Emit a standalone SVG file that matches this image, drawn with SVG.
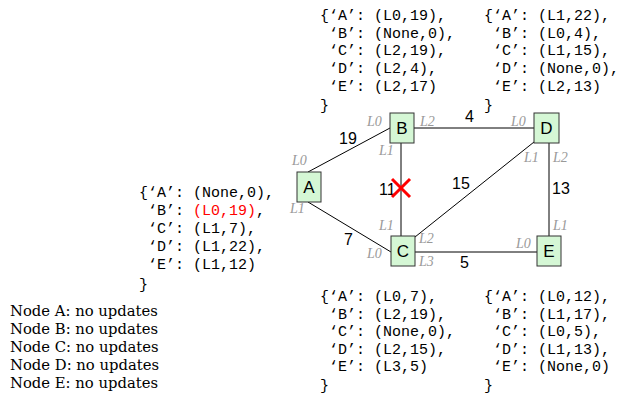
<svg xmlns="http://www.w3.org/2000/svg" width="623" height="397" viewBox="0 0 623 397">
<style>
.code{font-family:"Liberation Mono","Courier New",monospace;font-size:15px;fill:#000}
.red{fill:#ff0000}
.node rect{fill:#d5f7d5;stroke:#333;stroke-width:1}
.node text{font-family:"Liberation Sans",Arial,sans-serif;font-size:17px;text-anchor:middle;fill:#000}
.w{font-family:"Liberation Sans",Arial,sans-serif;font-size:16px;fill:#000}
.port{font-family:"Liberation Serif","Times New Roman",serif;font-style:italic;font-size:14px;fill:#999}
.edges line{stroke:#000;stroke-width:1}
.upd{font-family:"DejaVu Serif",serif;font-size:14.8px;fill:#000}
</style>
<rect width="623" height="397" fill="#fff"/>
<g id="connectors" class="edges">
<line x1="308" y1="172" x2="390" y2="128"/>
<line x1="308" y1="202" x2="391" y2="252"/>
<line x1="401" y1="142" x2="401" y2="236"/>
<line x1="414" y1="128" x2="534" y2="128"/>
<line x1="415" y1="237" x2="534" y2="142"/>
<line x1="549" y1="142" x2="549" y2="236"/>
<line x1="415" y1="252" x2="537" y2="252"/>
</g>
<g id="weights">
<text class="w" x="339" y="144">19</text>
<text class="w" x="465" y="122">4</text>
<text class="w" x="379" y="195">11</text>
<text class="w" x="452" y="189">15</text>
<text class="w" x="552" y="194">13</text>
<text class="w" x="344" y="245">7</text>
<text class="w" x="460" y="268">5</text>
</g>
<g id="cross" stroke="#ff0000" stroke-width="3">
<line x1="392" y1="179" x2="410" y2="197"/>
<line x1="410" y1="179" x2="392" y2="197"/>
</g>
<g id="node-A" class="node"><rect x="297" y="172" width="24" height="30"/><text x="309" y="193">A</text></g>
<g id="node-B" class="node"><rect x="390" y="113" width="24" height="30"/><text x="402" y="134">B</text></g>
<g id="node-C" class="node"><rect x="391" y="236" width="24" height="30"/><text x="403" y="257">C</text></g>
<g id="node-D" class="node"><rect x="534" y="113" width="25" height="30"/><text x="546.5" y="134">D</text></g>
<g id="node-E" class="node"><rect x="537" y="236" width="24" height="30"/><text x="549" y="257">E</text></g>
<g id="ports">
<text class="port" x="292" y="165">L0</text>
<text class="port" x="290" y="213">L1</text>
<text class="port" x="367" y="126">L0</text>
<text class="port" x="420" y="126">L2</text>
<text class="port" x="379" y="155">L1</text>
<text class="port" x="511" y="126">L0</text>
<text class="port" x="524" y="162">L1</text>
<text class="port" x="553" y="162">L2</text>
<text class="port" x="379" y="230">L1</text>
<text class="port" x="419" y="243">L2</text>
<text class="port" x="367" y="258">L0</text>
<text class="port" x="419" y="266">L3</text>
<text class="port" x="553" y="230">L1</text>
<text class="port" x="516" y="248">L0</text>
</g>
<g id="table-B" class="code">
<text x="320" y="20">{‘A’: (L0,19),</text>
<text x="320" y="38">&#160;‘B’: (None,0),</text>
<text x="320" y="55">&#160;‘C’: (L2,19),</text>
<text x="320" y="73">&#160;‘D’: (L2,4),</text>
<text x="320" y="91">&#160;‘E’: (L2,17)</text>
<text x="320" y="110">}</text>
</g>
<g id="table-D" class="code">
<text x="484" y="20">{‘A’: (L1,22),</text>
<text x="484" y="38">&#160;‘B’: (L0,4),</text>
<text x="484" y="55">&#160;‘C’: (L1,15),</text>
<text x="484" y="73">&#160;‘D’: (None,0),</text>
<text x="484" y="91">&#160;‘E’: (L2,13)</text>
<text x="484" y="110">}</text>
</g>
<g id="table-A" class="code">
<text x="139" y="197">{‘A’: (None,0),</text>
<text x="139" y="215">&#160;‘B’: <tspan class="red">(L0,19)</tspan>,</text>
<text x="139" y="233">&#160;‘C’: (L1,7),</text>
<text x="139" y="251">&#160;‘D’: (L1,22),</text>
<text x="139" y="269">&#160;‘E’: (L1,12)</text>
<text x="139" y="289">}</text>
</g>
<g id="table-C" class="code">
<text x="320" y="301">{‘A’: (L0,7),</text>
<text x="320" y="319">&#160;‘B’: (L2,19),</text>
<text x="320" y="336">&#160;‘C’: (None,0),</text>
<text x="320" y="354">&#160;‘D’: (L2,15),</text>
<text x="320" y="371">&#160;‘E’: (L3,5)</text>
<text x="320" y="390">}</text>
</g>
<g id="table-E" class="code">
<text x="484" y="301">{‘A’: (L0,12),</text>
<text x="484" y="319">&#160;‘B’: (L1,17),</text>
<text x="484" y="336">&#160;‘C’: (L0,5),</text>
<text x="484" y="354">&#160;‘D’: (L1,13),</text>
<text x="484" y="371">&#160;‘E’: (None,0)</text>
<text x="484" y="390">}</text>
</g>
<g id="updates" class="upd">
<text x="10" y="316">Node A: no updates</text>
<text x="10" y="334">Node B: no updates</text>
<text x="10" y="352">Node C: no updates</text>
<text x="10" y="370">Node D: no updates</text>
<text x="10" y="388">Node E: no updates</text>
</g>
</svg>
